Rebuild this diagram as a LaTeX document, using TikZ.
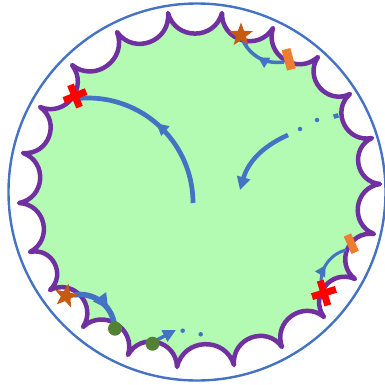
\documentclass[tikz,border=0pt]{standalone}
\usetikzlibrary{arrows.meta,decorations.markings,shapes.geometric}
\definecolor{pline}{RGB}{112,48,160}
\definecolor{bline}{RGB}{68,114,196}
\definecolor{gfill}{RGB}{179,250,179}
\definecolor{oline}{RGB}{237,125,49}
\definecolor{sbrown}{RGB}{197,90,17}
\definecolor{gdot}{RGB}{84,130,53}
\begin{document}
\begin{tikzpicture}[x=1pt,y=1pt,
  scallop/.style={bend left=75,looseness=1.35},
  bluepath/.style={draw=bline,line width=#1},
  midarrow/.style={postaction={decorate},decoration={markings,mark=at position #1 with {\arrow{Triangle[length=12pt,width=12pt]}}}},
  bigmid/.style={postaction={decorate},decoration={markings,mark=at position #1 with {\arrow{Triangle[length=15pt,width=15pt]}}}},
  smallmid/.style={postaction={decorate},decoration={markings,mark=at position #1 with {\arrow{Triangle[length=11pt,width=11pt]}}}},
  endtip/.style={-{Triangle[length=13pt,width=13pt]}},
  bdot/.style={circle,fill=bline,inner sep=0pt,minimum size=4.5pt},
  redbar/.style={fill=red},
  orangemark/.style={rectangle,fill=oline,inner sep=0pt,minimum width=#1},
  starmark/.style={star,star points=5,star point ratio=2.4,fill=sbrown,inner sep=0pt,minimum size=25pt},
  greendot/.style={circle,fill=gdot,inner sep=0pt,minimum size=14pt}]
\useasboundingbox (0,0) rectangle (385,384);
% cusps of the scalloped boundary
\coordinate (c1) at (222,371);
\coordinate (c2) at (168,371);
\coordinate (c3) at (117,352);
\coordinate (c4) at (72,319);
\coordinate (c5) at (40,277);
\coordinate (c6) at (23,231);
\coordinate (c7) at (19,181);
\coordinate (c8) at (30,132);
\coordinate (c9) at (50,94);
\coordinate (c10) at (83,57);
\coordinate (c11) at (128,29);
\coordinate (c12) at (177,17);
\coordinate (c13) at (234,19);
\coordinate (c14) at (282,37);
\coordinate (c15) at (324,67);
\coordinate (c16) at (355,105);
\coordinate (c17) at (374,150);
\coordinate (c18) at (380,200);
\coordinate (c19) at (372,246);
\coordinate (c20) at (350,290);
\coordinate (c21) at (318,327);
\coordinate (c22) at (273,356);
% outer circle
\coordinate (o) at (197,192);
\draw[bline,line width=2.4pt] (o) circle[radius=188.5];
% green region with purple scallops
\path[fill=gfill,draw=pline,line width=4.5pt,line join=round]
  (c1) to[scallop] (c2) to[scallop] (c3) to[scallop] (c4) to[scallop] (c5)
  to[scallop] (c6) to[scallop] (c7) to[scallop] (c8) to[scallop] (c9)
  to[scallop] (c10) to[scallop] (c11) to[scallop] (c12) to[scallop] (c13)
  to[scallop] (c14) to[scallop] (c15) to[scallop] (c16) to[scallop] (c17)
  to[scallop] (c18) to[scallop] (c19) to[scallop] (c20) to[scallop] (c21)
  to[scallop] (c22) to[scallop] (c1) -- cycle;
% big arc from the centre to the upper-left cross
\coordinate (a0) at (193,181);
\draw[bluepath=4.7pt,midarrow=0.52] (a0) arc[start angle=0,end angle=95,radius=105];
% upper right dash-dot arrow
\coordinate (d0) at (288,249);
\coordinate (d1) at (240,194);
\draw[bluepath=4.5pt,endtip] (d0) to[bend right=25] (d1);
\node[bdot] (dd1) at (300,255) {};
\node[bdot] (dd2) at (317,264) {};
\node[rectangle,fill=bline,inner sep=0pt,minimum width=5pt,minimum height=4.5pt,rotate=15] (dd3) at (336,268) {};
% upper right: orange mark to star
\coordinate (u0) at (284,322);
\coordinate (u1) at (243,343);
\draw[bluepath=3.5pt,smallmid=0.55] (u0) to[bend left=35] (u1);
% lower right: cross to orange mark
\coordinate (r0) at (322,94);
\coordinate (r1) at (346,134);
\draw[bluepath=3pt,smallmid=0.5] (r0) to[bend left=45] (r1);
% lower left: star to green dot
\coordinate (l0) at (74,89);
\coordinate (l1) at (114,61);
\draw[bluepath=5.5pt,bigmid=0.72] (l0) to[bend left=45] (l1);
% bottom dash-dot arrow
\coordinate (b0) at (155,43);
\coordinate (b1) at (176,54);
\draw[bluepath=3.5pt,-{Triangle[length=13pt,width=12pt]}] (b0) -- (b1);
\node[bdot] (bd1) at (182.7,53.3) {};
\node[bdot] (bd2) at (200.7,49.7) {};
% red crosses
\fill[redbar,rotate around={22:(75,288)}] (63,284.5) rectangle (87,291.5);
\fill[redbar,rotate around={22:(75,288)}] (71.5,276) rectangle (78.5,300);
\fill[redbar,rotate around={17:(324,91)}] (311.5,87.5) rectangle (336.5,94.5);
\fill[redbar,rotate around={17:(324,91)}] (320.5,78) rectangle (327.5,104);
% orange marks
\node[orangemark=9pt,minimum height=21pt,rotate=15] (om1) at (288.7,324.7) {};
\node[orangemark=8pt,minimum height=19pt,rotate=24] (om2) at (351.3,140.3) {};
% stars
\node[starmark] (st1) at (241,349) {};
\node[starmark,rotate=-12] (st2) at (66,88) {};
% green dots
\node[greendot] (gd1) at (115,55.3) {};
\node[greendot] (gd2) at (152.5,40.3) {};
\end{tikzpicture}
\end{document}
